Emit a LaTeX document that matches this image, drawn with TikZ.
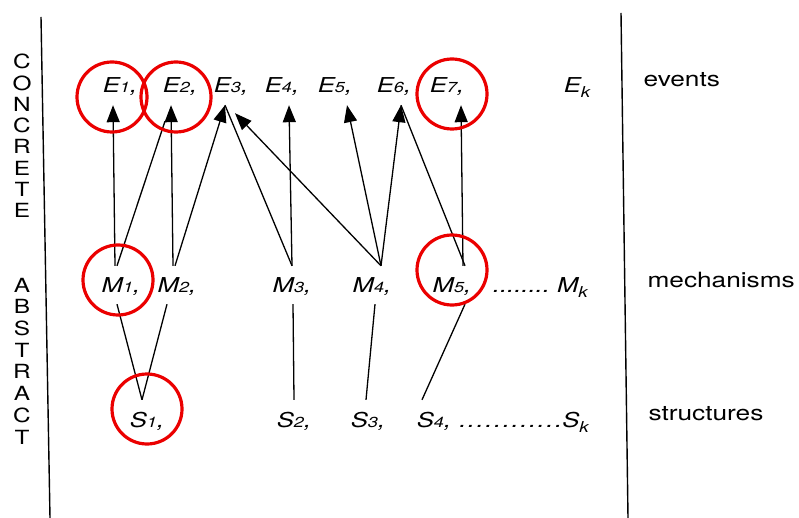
\documentclass[tikz,border=0pt]{standalone}
\usepackage{fontspec}
\setsansfont[FakeStretch=1.25]{TeX Gyre Heros}
\usetikzlibrary{arrows.meta}
\newcommand{\ix}[1]{{\fontsize{14.5}{14.5}\selectfont #1}}
\newcommand{\lowk}{\raisebox{-5pt}{\fontsize{15}{15}\selectfont k}}

\begin{document}
\begin{tikzpicture}[x=1pt,y=-1pt,
  lbl/.style={font=\sffamily\itshape\fontsize{20.5}{20.5}\selectfont,inner xsep=0pt,text height=14pt,text depth=0pt,anchor=base},
  ev/.style={lbl,inner ysep=12pt},
  mech/.style={lbl,inner ysep=12pt},
  st/.style={lbl,inner ysep=13pt},
  side/.style={font=\sffamily\fontsize{21}{21}\selectfont,anchor=base west},
  arr/.style={-{Triangle[length=17pt,width=13pt]},line width=1.3pt},
  ln/.style={line width=1.3pt},
  ring/.style={draw=red!92!black,line width=3.2pt}]
\fill[white] (0,0) rectangle (799,518);
\useasboundingbox (0,0) rectangle (799,518);

% frame lines
\draw[line width=1.4pt] (41,17)--(50,518);
\draw[line width=1.4pt] (621,13)--(628,518);
\node[align=center,inner sep=0pt,font=\sffamily\fontsize{19.5}{21.3}\selectfont] (concrete) at (22,136) {C\\O\\N\\C\\R\\E\\T\\E};
\node[align=center,inner sep=0pt,font=\sffamily\fontsize{19.5}{21.7}\selectfont] (abstract) at (22,361) {A\\B\\S\\T\\R\\A\\C\\T};

% events
\node[ev] (e1) at (120,93) {E\ix{1},};
\node[ev] (e2) at (180,93) {E\ix{2},};
\node[ev] (e3) at (231,93) {E\ix{3},};
\node[ev] (e4) at (282,93) {E\ix{4},};
\node[ev] (e5) at (335,93) {E\ix{5},};
\node[ev] (e6) at (394,93) {E\ix{6},};
\node[ev] (e7) at (447,93) {E\ix{7},};
\node[ev] (ek) at (577,93) {E\lowk};
% mechanisms
\node[mech] (m1) at (121,292) {M\ix{1},};
\node[mech] (m2) at (177,292) {M\ix{2},};
\node[mech] (m3) at (292,292) {M\ix{3},};
\node[mech] (m4) at (372,292) {M\ix{4},};
\node[mech] (m5) at (452,292) {M\ix{5},};
\node[mech,anchor=base east] (mk) at (588,292) {........\ M\lowk};
% structures
\node[st] (s1) at (147,427) {S\ix{1},};
\node[st] (s2) at (294,427) {S\ix{2},};
\node[st] (s3) at (368,427) {S\ix{3},};
\node[st] (s4) at (434,427) {S\ix{4},};
\node[st,anchor=base east] (sk) at (589,427) {\hspace{1pt}.\hspace{1.6pt}.\hspace{1.6pt}.\hspace{1.6pt}.\hspace{1.6pt}.\hspace{1.6pt}.\hspace{1.6pt}.\hspace{1.6pt}.\hspace{1.6pt}.\hspace{1.6pt}.\hspace{1.6pt}.\hspace{1.6pt}.S\lowk};

\node[side] (events) at (640,87) {events};
\node[side] (mechs) at (644,287) {mechanisms};
\node[side] (structs) at (645,420) {structures};

% mechanisms -> events
\draw[arr] ([xshift=-6pt]m1.north)--([xshift=-7pt]e1.south);
\draw[ln] ([xshift=-4pt]m1.north)--([shift={(-15,16)}]e2.south);
\draw[arr] ([xshift=-4pt]m2.north)--([xshift=-9pt]e2.south);
\draw[arr] ([xshift=-2pt]m2.north)--([xshift=-6pt]e3.south);
\draw[ln] (m3.north)--([xshift=-6pt]e3.south);
\draw[arr] (m3.north)--([xshift=7pt]e4.south);
\draw[arr] ([xshift=9pt]m4.north)--([shift={(4,8)}]e3.south);
\draw[arr] ([xshift=9pt]m4.north)--([xshift=12pt]e5.south);
\draw[arr] ([xshift=9pt]m4.north)--([xshift=7pt]e6.south);
\draw[ln] ([xshift=13pt]m5.north)--([xshift=7pt]e6.south);
\draw[arr] ([xshift=11pt]m5.north)--([xshift=14pt]e7.south);

% mechanisms -- structures
\draw[ln] ([xshift=-4pt]m1.south)--([xshift=-5pt]s1.north);
\draw[ln] ([xshift=-10pt]m2.south)--([xshift=-5pt]s1.north);
\draw[ln] ([xshift=1pt]m3.south)--(s2.north);
\draw[ln] ([xshift=3pt]m4.south)--([xshift=-2pt]s3.north);
\draw[ln] ([xshift=13pt]m5.south)--([xshift=-12pt]s4.north);

% marked items
\draw[ring] ([shift={(-8,4)}]e1.base) circle (35pt);
\draw[ring] ([shift={(-4,4)}]e2.base) circle (35pt);
\draw[ring] ([shift={(5,1)}]e7.base) circle (35pt);
\draw[ring] ([shift={(-3,-12)}]m1.base) circle (35pt);
\draw[ring] ([shift={(0,-22)}]m5.base) circle (35pt);
\draw[ring] ([shift={(0,-18)}]s1.base) circle (35pt);
\end{tikzpicture}
\end{document}
